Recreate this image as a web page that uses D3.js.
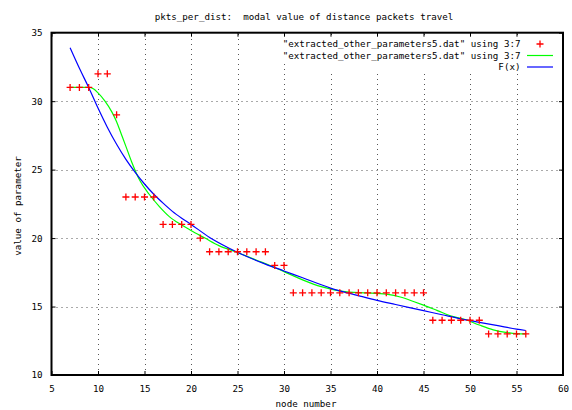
<!DOCTYPE html>
<html lang="en">
    <head>
        <meta charset="utf-8">
        <script src="https://d3js.org/d3.v7.min.js"></script>
        <style type="text/css">
            body {
                margin: 0;
                background: #ffffff;
            }
            text {
                font-family: "DejaVu Sans Mono", monospace;
                font-size: 9.2px;
                fill: #000000;
                white-space: pre;
            }
        </style>
    </head>
    <body>
        <div id="chart"></div>

        <script type="text/javascript">
            // data points (column 3 vs column 7)
            var nodeNumbers = [7, 8, 9, 10, 11, 12, 13, 14, 15, 16, 17, 18, 19, 20, 21, 22, 23, 24, 25, 26,
                               27, 28, 29, 30, 31, 32, 33, 34, 35, 36, 37, 38, 39, 40, 41, 42, 43, 44, 45, 46,
                               47, 48, 49, 50, 51, 52, 53, 54, 55, 56];
            var paramValues = [31, 31, 31, 32, 32, 29, 23, 23, 23, 23, 21, 21, 21, 21, 20, 19, 19, 19, 19, 19,
                               19, 19, 18, 18, 16, 16, 16, 16, 16, 16, 16, 16, 16, 16, 16, 16, 16, 16, 16, 14,
                               14, 14, 14, 14, 14, 13, 13, 13, 13, 13];

            // smoothed curve
            var smoothX = [7, 8, 9, 9.5, 10, 10.75, 11.5, 12, 12.5, 13, 13.6, 14.5, 15.5, 16.6, 17.7, 19, 20, 21.5, 23,
                           25, 27, 28.5, 30, 32, 34, 35.5, 37, 39, 41, 42.5, 44, 45, 46.5, 48, 49.5, 51, 52.5, 54, 55, 56];
            var smoothY = [31.0, 31.0, 31.0, 30.9, 30.6, 30.0, 29.2, 28.5, 27.6, 26.7, 25.6, 24.2, 23.2, 22.3, 21.55, 20.95, 20.55, 20.0, 19.45,
                           18.95, 18.4, 18.0, 17.55, 16.95, 16.45, 16.2, 16.05, 16.0, 15.9, 15.7, 15.35, 15.1, 14.7, 14.3, 14.05, 13.65, 13.3, 13.1, 13.02, 13.0];

            // fitted F(x)
            var fitX = [7, 8, 9, 10, 11, 12, 13, 14, 15, 16, 17, 18, 19, 20, 22, 24, 26, 28, 30, 32, 35, 38, 40, 42,
                        45, 47, 49, 51, 53, 55, 56];
            var fitY = [33.9, 32.4, 31.0, 29.5, 28.1, 26.85, 25.75, 24.8, 23.95, 23.2, 22.55, 21.95, 21.45, 21.0, 20.05, 19.3, 18.65, 18.1, 17.6, 17.1, 16.35, 15.8, 15.45, 15.15,
                        14.7, 14.4, 14.1, 13.85, 13.6, 13.35, 13.25];

            var xTicks = [5, 10, 15, 20, 25, 30, 35, 40, 45, 50, 55, 60];
            var yTicks = [10, 15, 20, 25, 30, 35];
            var legendLabels = ['"extracted_other_parameters5.dat" using 3:7',
                                '"extracted_other_parameters5.dat" using 3:7',
                                'F(x)'];

            var w = 572, h = 410;
            var plotLeft = 51.5, plotRight = 563, plotTop = 32.7, plotBottom = 375;

            var svg = d3.select("#chart")
            .append("svg")
            .attr("width", w)
            .attr("height", h);

            var x = d3.scaleLinear().domain([5, 60]).range([plotLeft, plotRight]);
            var y = d3.scaleLinear().domain([10, 35]).range([plotBottom, plotTop]);

            // grid
            var grid = svg.append("g")
            .attr("stroke", "#555")
            .attr("stroke-width", 1)
            .attr("stroke-dasharray", "1,4");
            grid.selectAll("line.gx")
            .data(xTicks.slice(1, -1))
            .enter()
            .append("line")
            .attr("x1", function(d) { return Math.round(x(d)) + 0.5; })
            .attr("x2", function(d) { return Math.round(x(d)) + 0.5; })
            .attr("y1", plotBottom)
            .attr("y2", plotTop);
            grid.selectAll("line.gy")
            .data(yTicks.slice(1, -1))
            .enter()
            .append("line")
            .attr("x1", plotLeft)
            .attr("x2", plotRight)
            .attr("y1", function(d) { return Math.round(y(d)) + 0.5; })
            .attr("y2", function(d) { return Math.round(y(d)) + 0.5; });

            // key area is cleared
            svg.append("rect")
            .attr("x", 280).attr("y", 35).attr("width", 278).attr("height", 26)
            .attr("fill", "#fff");
            svg.append("rect")
            .attr("x", 290).attr("y", 61).attr("width", 268).attr("height", 12)
            .attr("fill", "#fff");

            // axes with inward ticks, mirrored
            var tickLen = 4;
            svg.append("g")
            .attr("transform", "translate(0," + plotBottom + ")")
            .call(d3.axisBottom(x).tickValues(xTicks).tickSize(-tickLen).tickPadding(10))
            .call(function(g) { g.select(".domain").remove(); });
            svg.append("g")
            .attr("transform", "translate(0," + plotTop + ")")
            .call(d3.axisTop(x).tickValues(xTicks).tickSize(-tickLen).tickFormat(""))
            .call(function(g) { g.select(".domain").remove(); });
            svg.append("g")
            .attr("transform", "translate(" + plotLeft + ",0)")
            .call(d3.axisLeft(y).tickValues(yTicks).tickSize(-tickLen).tickPadding(9))
            .call(function(g) { g.select(".domain").remove(); });
            svg.append("g")
            .attr("transform", "translate(" + plotRight + ",0)")
            .call(d3.axisRight(y).tickValues(yTicks).tickSize(-tickLen).tickFormat(""))
            .call(function(g) { g.select(".domain").remove(); });
            svg.selectAll(".tick line").attr("stroke", "#000");
            svg.selectAll(".tick text")
            .attr("font-family", "DejaVu Sans Mono, monospace")
            .attr("font-size", "9.2px")
            .attr("fill", "#000");

            // frame
            svg.append("rect")
            .attr("x", plotLeft)
            .attr("y", plotTop)
            .attr("width", plotRight - plotLeft)
            .attr("height", plotBottom - plotTop)
            .attr("fill", "none")
            .attr("stroke", "#000")
            .attr("stroke-width", 2);

            // curves
            var line = d3.line()
            .x(function(d) { return x(d[0]); })
            .y(function(d) { return y(d[1]); })
            .curve(d3.curveMonotoneX);

            svg.append("path")
            .datum(smoothX.map(function(v, i) { return [v, smoothY[i]]; }))
            .attr("d", line)
            .attr("fill", "none")
            .attr("stroke", "#00ff00")
            .attr("stroke-width", 1.2);

            svg.append("path")
            .datum(fitX.map(function(v, i) { return [v, fitY[i]]; }))
            .attr("d", line)
            .attr("fill", "none")
            .attr("stroke", "#0000ff")
            .attr("stroke-width", 1.2);

            // plus markers
            var plus = "M-3.5,0H3.5M0,-3.5V3.5";
            svg.append("g")
            .selectAll("path")
            .data(nodeNumbers)
            .enter()
            .append("path")
            .attr("transform", function(d, i) { return "translate(" + x(d) + "," + y(paramValues[i]) + ")"; })
            .attr("d", plus)
            .attr("stroke", "#ff0000")
            .attr("stroke-width", 1.3);

            // key
            var keyY = [44, 55.5, 67];
            var key = svg.append("g");
            key.selectAll("text")
            .data(legendLabels)
            .enter()
            .append("text")
            .attr("x", 520.5)
            .attr("y", function(d, i) { return keyY[i] + 3.3; })
            .attr("text-anchor", "end")
            .text(function(d) { return d; });
            key.append("path")
            .attr("transform", "translate(540," + keyY[0] + ")")
            .attr("d", plus)
            .attr("stroke", "#ff0000")
            .attr("stroke-width", 1.3);
            key.append("line")
            .attr("x1", 527).attr("x2", 553)
            .attr("y1", keyY[1]).attr("y2", keyY[1])
            .attr("stroke", "#00ff00").attr("stroke-width", 1.2);
            key.append("line")
            .attr("x1", 527).attr("x2", 553)
            .attr("y1", keyY[2]).attr("y2", keyY[2])
            .attr("stroke", "#0000ff").attr("stroke-width", 1.2);

            // titles
            svg.append("text")
            .attr("x", 304)
            .attr("y", 20)
            .attr("text-anchor", "middle")
            .text("pkts_per_dist:  modal value of distance packets travel");
            svg.append("text")
            .attr("x", 306)
            .attr("y", 407)
            .attr("text-anchor", "middle")
            .text("node number");
            svg.append("text")
            .attr("transform", "translate(21,206) rotate(-90)")
            .attr("text-anchor", "middle")
            .text("value of parameter");
        </script>
    </body>
</html>
